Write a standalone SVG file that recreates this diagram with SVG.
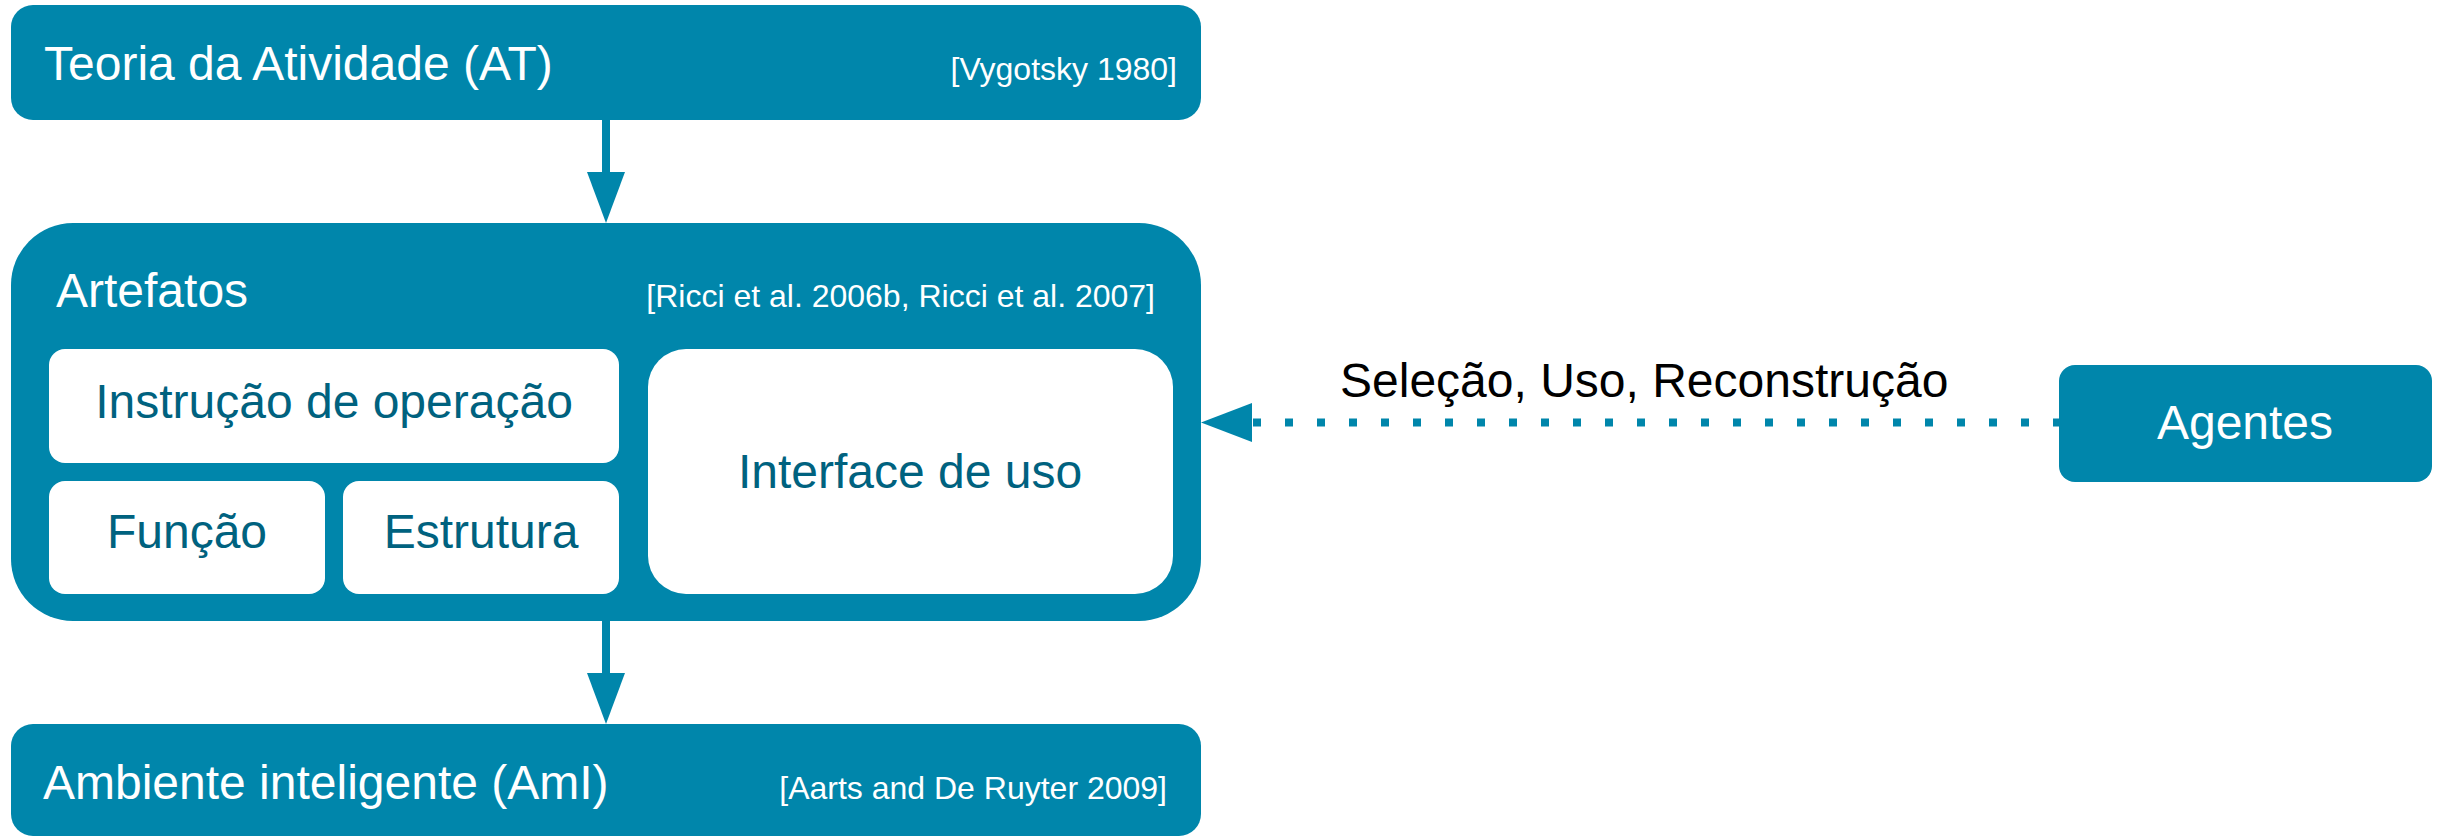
<svg xmlns="http://www.w3.org/2000/svg" width="2437" height="836" viewBox="0 0 2437 836">
<style>
.box{fill:#0086ab}
.inner{fill:#ffffff}
.t{font-family:"Liberation Sans",Arial,sans-serif}
.big{font-size:48px}
.small{font-size:32px}
.w{fill:#ffffff}
.d{fill:#00627f}
.k{fill:#000000}
.line{stroke:#0086ab;fill:none}
.head{fill:#0086ab}
</style>
<rect width="2437" height="836" fill="#ffffff"/>
<g id="connectors">
<line class="line" x1="606" y1="120" x2="606" y2="174" stroke-width="8"/>
<polygon class="head" points="587,172 625,172 606,223"/>
<line class="line" x1="606" y1="620" x2="606" y2="675" stroke-width="8"/>
<polygon class="head" points="587,673 625,673 606,724"/>
<line class="line" x1="1253" y1="422.5" x2="2060" y2="422.5" stroke-width="8" stroke-dasharray="8 24"/>
<polygon class="head" points="1252,403 1252,442 1201,422.5"/>
<text class="t big k" x="1340" y="397">Seleção, Uso, Reconstrução</text>
</g>
<g id="teoria">
<rect class="box" x="11" y="5" width="1190" height="115" rx="22"/>
<text class="t big w" x="44" y="80">Teoria da Atividade (AT)</text>
<text class="t small w" x="1177" y="80" text-anchor="end">[Vygotsky 1980]</text>
</g>
<g id="artefatos">
<rect class="box" x="11" y="223" width="1190" height="398" rx="62"/>
<text class="t big w" x="56" y="307">Artefatos</text>
<text class="t small w" x="1155" y="307" text-anchor="end">[Ricci et al. 2006b, Ricci et al. 2007]</text>
</g>
<g id="instrucao">
<rect class="inner" x="49" y="349" width="570" height="114" rx="16"/>
<text class="t big d" x="334" y="418" text-anchor="middle">Instrução de operação</text>
</g>
<g id="funcao">
<rect class="inner" x="49" y="481" width="276" height="113" rx="16"/>
<text class="t big d" x="187" y="548" text-anchor="middle">Função</text>
</g>
<g id="estrutura">
<rect class="inner" x="343" y="481" width="276" height="113" rx="16"/>
<text class="t big d" x="481" y="548" text-anchor="middle">Estrutura</text>
</g>
<g id="interface">
<rect class="inner" x="648" y="349" width="525" height="245" rx="38"/>
<text class="t big d" x="910" y="488" text-anchor="middle">Interface de uso</text>
</g>
<g id="ambiente">
<rect class="box" x="11" y="724" width="1190" height="112" rx="22"/>
<text class="t big w" x="43" y="799">Ambiente inteligente (AmI)</text>
<text class="t small w" x="1167" y="799" text-anchor="end">[Aarts and De Ruyter 2009]</text>
</g>
<g id="agentes">
<rect class="box" x="2059" y="365" width="373" height="117" rx="16"/>
<text class="t big w" x="2245" y="439" text-anchor="middle">Agentes</text>
</g>
</svg>
